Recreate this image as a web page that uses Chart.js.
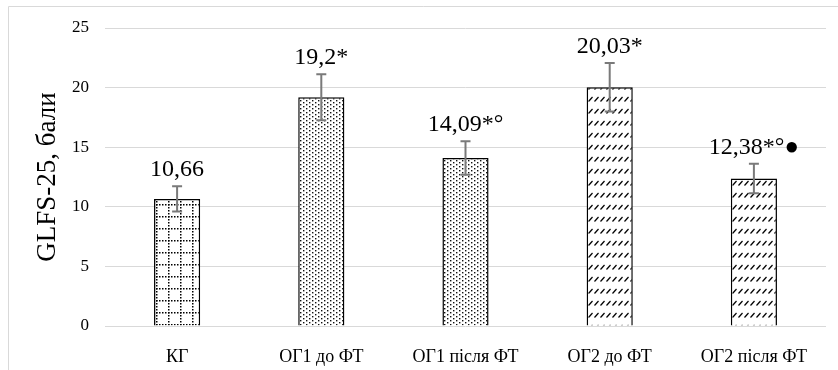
<!DOCTYPE html>
<html>
<head>
<meta charset="utf-8">
<script src="https://cdn.jsdelivr.net/npm/chart.js@4"></script>
<style>
  html, body { margin: 0; padding: 0; background: #fff; }
  #wrap { width: 838px; height: 370px; position: relative; }
</style>
</head>
<body>
<div id="wrap"><canvas id="glfsChart" width="838" height="370"></canvas></div>
<script>
// Data
var groups = ['КГ', 'ОГ1 до ФТ', 'ОГ1 після ФТ', 'ОГ2 до ФТ', 'ОГ2 після ФТ'];
var meanScores = [10.66, 19.2, 14.09, 20.03, 12.38];
var errorValues = [1.06, 1.93, 1.4, 2.03, 1.24];
var scoreLabels = ['10,66', '19,2*', '14,09*°', '20,03*', '12,38*°●'];
var yTicks = [0, 5, 10, 15, 20, 25];

// Fill patterns
function makePattern(w, h, drawFn) {
  var c = document.createElement('canvas');
  c.width = w;
  c.height = h;
  var p = c.getContext('2d');
  p.fillStyle = '#fff';
  p.fillRect(0, 0, w, h);
  drawFn(p);
  return document.getElementById('glfsChart').getContext('2d').createPattern(c, 'repeat');
}

var gridPattern = makePattern(12, 12, function (p) {
  p.fillStyle = '#000';
  for (var i = 0; i < 12; i += 3) {
    p.fillRect(i, 0, 1.5, 1.5);
    p.fillRect(0, i, 1.5, 1.5);
  }
});

var dotPattern = makePattern(6, 4, function (p) {
  p.fillStyle = '#111';
  p.fillRect(0, 0, 1.4, 1.4);
  p.fillRect(3, 2, 1.4, 1.4);
});

var slashPattern = makePattern(6, 12, function (p) {
  p.strokeStyle = '#000';
  p.lineWidth = 1.2;
  p.beginPath();
  p.moveTo(0.5, 5.5);
  p.lineTo(4.5, 1);
  p.stroke();
});

var barFills = [gridPattern, dotPattern, dotPattern, slashPattern, slashPattern];

// Plugin: frame, error bars and value labels
var extrasPlugin = {
  id: 'extras',
  beforeDraw(chart) {
    var ctx = chart.ctx;
    ctx.save();
    ctx.strokeStyle = '#d9d9d9';
    ctx.lineWidth = 1;
    ctx.beginPath();
    ctx.moveTo(8.5, 370);
    ctx.lineTo(8.5, 6.5);
    ctx.lineTo(838, 6.5);
    ctx.stroke();
    ctx.restore();
  },
  afterDatasetsDraw(chart) {
    var ctx = chart.ctx;
    var yScale = chart.scales.y;
    var meta = chart.getDatasetMeta(0);
    ctx.save();
    meta.data.forEach(function (bar, i) {
      var x = bar.x;
      var top = yScale.getPixelForValue(meanScores[i] + errorValues[i]);
      var bottom = yScale.getPixelForValue(meanScores[i] - errorValues[i]);
      ctx.strokeStyle = '#7a7a7a';
      ctx.lineWidth = 2;
      ctx.beginPath();
      ctx.moveTo(x, top);
      ctx.lineTo(x, bottom);
      ctx.moveTo(x - 5, top);
      ctx.lineTo(x + 5, top);
      ctx.moveTo(x - 5, bottom);
      ctx.lineTo(x + 5, bottom);
      ctx.stroke();

      ctx.fillStyle = '#000';
      ctx.font = '24px "Liberation Serif", "Times New Roman", serif';
      ctx.textAlign = 'center';
      ctx.textBaseline = 'alphabetic';
      ctx.fillText(scoreLabels[i], x, top - 10);
    });
    ctx.restore();
  }
};

new Chart(document.getElementById('glfsChart'), {
  type: 'bar',
  data: {
    labels: groups,
    datasets: [{
      data: meanScores,
      backgroundColor: barFills,
      borderColor: '#000',
      borderWidth: 1.5,
      barPercentage: 0.32,
      categoryPercentage: 1
    }]
  },
  options: {
    responsive: false,
    animation: false,
    devicePixelRatio: 1,
    layout: { padding: { left: 8, top: 28, right: 12, bottom: 0 } },
    plugins: {
      legend: { display: false },
      tooltip: { enabled: false }
    },
    scales: {
      x: {
        grid: { display: false },
        border: { display: false },
        ticks: {
          color: '#000',
          padding: 12,
          font: { family: '"Liberation Serif", serif', size: 18 }
        },
        afterFit(scale) { scale.height = 44; }
      },
      y: {
        min: 0,
        max: 25,
        afterBuildTicks(scale) {
          scale.ticks = yTicks.map(function (v) { return { value: v }; });
        },
        grid: { color: '#d9d9d9', lineWidth: 1, drawTicks: false },
        border: { display: false },
        ticks: {
          color: '#000',
          padding: 16,
          font: { family: '"Liberation Serif", serif', size: 17 }
        },
        title: {
          display: true,
          text: 'GLFS-25, бали',
          color: '#000',
          padding: { top: 24, bottom: 0 },
          font: { family: '"Liberation Serif", serif', size: 27 }
        },
        afterFit(scale) { scale.width = 97; }
      }
    }
  },
  plugins: [extrasPlugin]
});
</script>
</body>
</html>
